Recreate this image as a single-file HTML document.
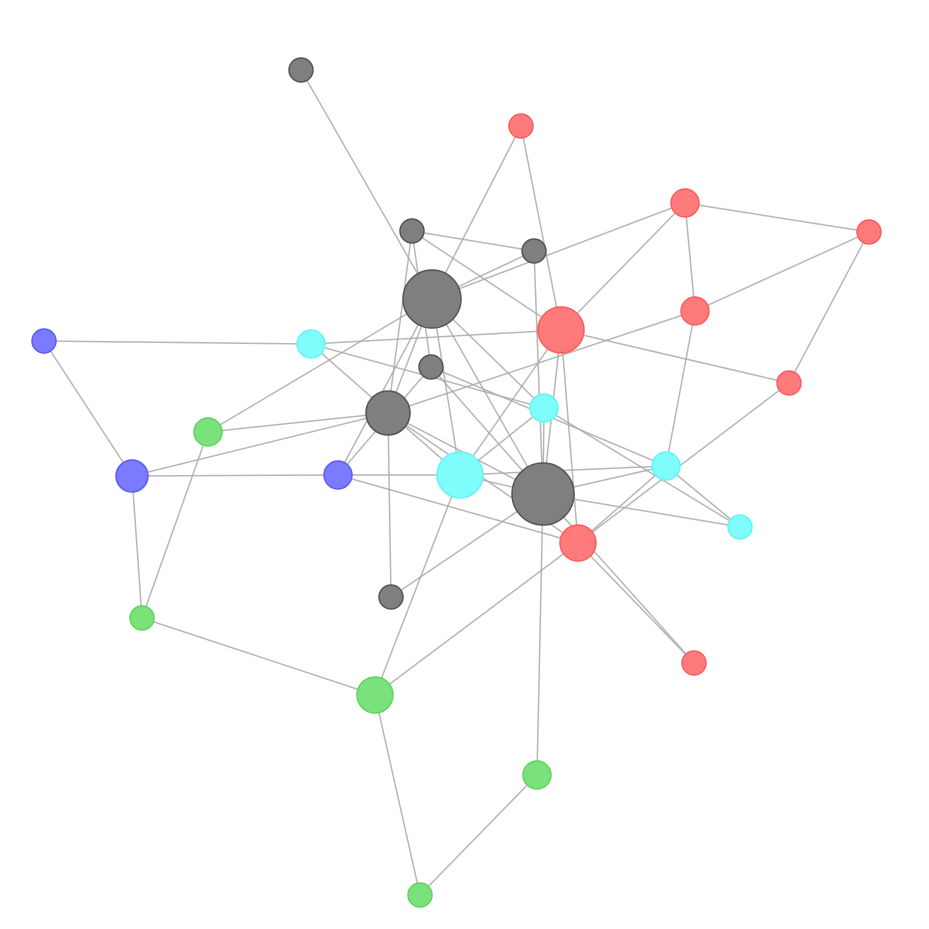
<!DOCTYPE html>
<html><head><meta charset="utf-8"><style>html,body{margin:0;padding:0;background:#fff}svg{display:block}</style></head><body>
<svg width="929" height="929" viewBox="0 0 929 929" xmlns="http://www.w3.org/2000/svg">
<g stroke="#aaa" stroke-width="1.5" stroke-opacity="0.85" fill="none">
<line x1="301" y1="70" x2="432" y2="299"/>
<line x1="521" y1="126" x2="432" y2="299"/>
<line x1="521" y1="126" x2="561" y2="330"/>
<line x1="412" y1="231" x2="534" y2="251"/>
<line x1="412" y1="231" x2="561" y2="330"/>
<line x1="412" y1="231" x2="388" y2="413"/>
<line x1="412" y1="231" x2="431" y2="367"/>
<line x1="534" y1="251" x2="432" y2="299"/>
<line x1="685" y1="203" x2="432" y2="299"/>
<line x1="534" y1="251" x2="543" y2="494"/>
<line x1="685" y1="203" x2="561" y2="330"/>
<line x1="685" y1="203" x2="695" y2="311"/>
<line x1="685" y1="203" x2="869" y2="232"/>
<line x1="869" y1="232" x2="695" y2="311"/>
<line x1="869" y1="232" x2="789" y2="383"/>
<line x1="561" y1="330" x2="311" y2="344"/>
<line x1="561" y1="330" x2="789" y2="383"/>
<line x1="561" y1="330" x2="460" y2="475"/>
<line x1="561" y1="330" x2="543" y2="494"/>
<line x1="561" y1="330" x2="578" y2="543"/>
<line x1="695" y1="311" x2="388" y2="413"/>
<line x1="695" y1="311" x2="666" y2="466"/>
<line x1="44" y1="341" x2="311" y2="344"/>
<line x1="44" y1="341" x2="132" y2="476"/>
<line x1="311" y1="344" x2="544" y2="408"/>
<line x1="311" y1="344" x2="460" y2="475"/>
<line x1="432" y1="299" x2="208" y2="432"/>
<line x1="432" y1="299" x2="388" y2="413"/>
<line x1="432" y1="299" x2="338" y2="475"/>
<line x1="432" y1="299" x2="543" y2="494"/>
<line x1="432" y1="299" x2="544" y2="408"/>
<line x1="432" y1="299" x2="460" y2="475"/>
<line x1="431" y1="367" x2="666" y2="466"/>
<line x1="431" y1="367" x2="543" y2="494"/>
<line x1="431" y1="367" x2="338" y2="475"/>
<line x1="388" y1="413" x2="208" y2="432"/>
<line x1="388" y1="413" x2="132" y2="476"/>
<line x1="388" y1="413" x2="543" y2="494"/>
<line x1="388" y1="413" x2="391" y2="597"/>
<line x1="388" y1="413" x2="578" y2="543"/>
<line x1="132" y1="476" x2="338" y2="475"/>
<line x1="132" y1="476" x2="142" y2="618"/>
<line x1="208" y1="432" x2="142" y2="618"/>
<line x1="338" y1="475" x2="460" y2="475"/>
<line x1="338" y1="475" x2="578" y2="543"/>
<line x1="460" y1="475" x2="543" y2="494"/>
<line x1="460" y1="475" x2="666" y2="466"/>
<line x1="460" y1="475" x2="544" y2="408"/>
<line x1="460" y1="475" x2="375" y2="695"/>
<line x1="543" y1="494" x2="666" y2="466"/>
<line x1="543" y1="494" x2="740" y2="527"/>
<line x1="543" y1="494" x2="537" y2="775"/>
<line x1="543" y1="494" x2="391" y2="597"/>
<line x1="543" y1="494" x2="694" y2="663"/>
<line x1="544" y1="408" x2="740" y2="527"/>
<line x1="544" y1="408" x2="543" y2="494"/>
<line x1="666" y1="466" x2="740" y2="527"/>
<line x1="666" y1="466" x2="578" y2="543"/>
<line x1="789" y1="383" x2="578" y2="543"/>
<line x1="578" y1="543" x2="694" y2="663"/>
<line x1="578" y1="543" x2="375" y2="695"/>
<line x1="142" y1="618" x2="375" y2="695"/>
<line x1="375" y1="695" x2="420" y2="895"/>
<line x1="420" y1="895" x2="537" y2="775"/>
</g>
<g stroke-width="1.5">
<g fill="#7f7f7f" stroke="#555">
<circle cx="301" cy="70" r="12"/>
<circle cx="412" cy="231" r="12"/>
<circle cx="534" cy="251" r="12"/>
<circle cx="432" cy="299" r="29"/>
<circle cx="431" cy="367" r="12"/>
<circle cx="388" cy="413" r="22"/>
<circle cx="543" cy="494" r="31"/>
<circle cx="391" cy="597" r="12"/>
</g>
<g fill="#ff7b7b" stroke="#ff5c5c">
<circle cx="521" cy="126" r="12"/>
<circle cx="685" cy="203" r="14"/>
<circle cx="869" cy="232" r="12"/>
<circle cx="561" cy="330" r="23"/>
<circle cx="695" cy="311" r="14"/>
<circle cx="789" cy="383" r="12"/>
<circle cx="578" cy="543" r="18"/>
<circle cx="694" cy="663" r="12"/>
</g>
<g fill="#7ffdfd" stroke="#66f4f4">
<circle cx="311" cy="344" r="14"/>
<circle cx="544" cy="408" r="14"/>
<circle cx="460" cy="475" r="23"/>
<circle cx="666" cy="466" r="14"/>
<circle cx="740" cy="527" r="12"/>
</g>
<g fill="#7b7bff" stroke="#5c5cf5">
<circle cx="44" cy="341" r="12"/>
<circle cx="132" cy="476" r="16"/>
<circle cx="338" cy="475" r="14"/>
</g>
<g fill="#7be27b" stroke="#5cd65c">
<circle cx="208" cy="432" r="14"/>
<circle cx="142" cy="618" r="12"/>
<circle cx="375" cy="695" r="18"/>
<circle cx="537" cy="775" r="14"/>
<circle cx="420" cy="895" r="12"/>
</g>
</g>
</svg>
</body></html>
